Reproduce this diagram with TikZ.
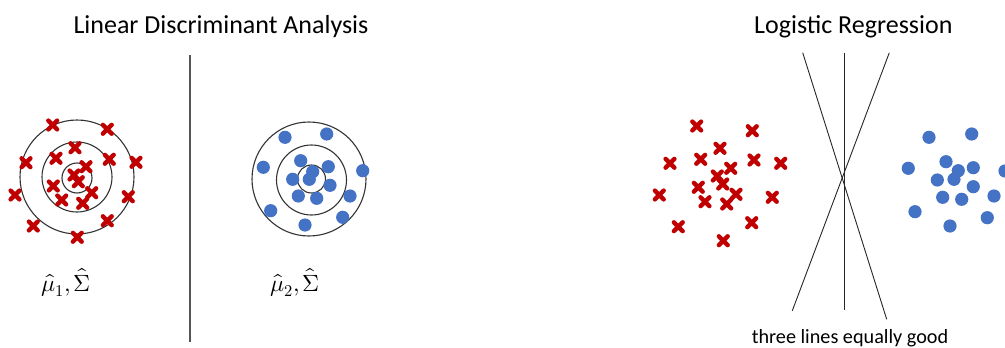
\documentclass[tikz,border=0pt]{standalone}
\usepackage{unicode-math}
\setmainfont{Carlito}
\setmathfont{Latin Modern Math}
\definecolor{xred}{HTML}{C00000}
\definecolor{dblue}{HTML}{4472C4}
\definecolor{lgray}{HTML}{555555}
\begin{document}
\begin{tikzpicture}[x=1pt,y=-1pt,
  ring/.style={draw=black!80,line width=1.1pt},
  sepline/.style={draw=lgray,line width=1.3pt},
  divline/.style={draw=black!85,line width=0.9pt},
  xmark/.style={draw=xred,line width=4.4pt,line cap=round},
  bdot/.style={fill=dblue},
  title/.style={font=\fontsize{26}{30}\selectfont,anchor=base},
  mlabel/.style={font=\fontsize{23.5}{28}\selectfont,anchor=base west,inner sep=0pt}]
\useasboundingbox (0,0) rectangle (1005,348);
% titles
\node[title] (tlda) at (221,33.3) {Linear Discriminant Analysis};
\node[title] (tlr) at (853.3,33.3) {Logistic Regression};
% divider
\coordinate (dtop) at (190,55);
\coordinate (dbot) at (190,342);
\draw[sepline] (dtop) -- (dbot);
% LDA class 1 rings
\draw[ring] (77,177) circle (57) (77,177) circle (35) (77,178) circle (15);
\foreach \p in {(52.7,125),(107.3,129.3),(75,147.7),(56,158.3),(109.3,159.3),(26,162.7),(136,162.3),(86,166.7),(74,175),(78.3,181.7),(53.3,186),(91.7,192.7),(15,195),(128.3,196.7),(61.7,200),(82.7,203.3),(107.3,220.7),(33.3,226),(77.3,237.3)}{
  \path \p coordinate (c);
  \draw[xmark] ([shift={(-4.4,-4.4)}]c) -- ([shift={(4.4,4.4)}]c) ([shift={(-4.4,4.4)}]c) -- ([shift={(4.4,-4.4)}]c);
}
% LDA class 2 rings
\draw[ring] (309,179) circle (57) (311.5,180) circle (35) (311.5,179) circle (14);
\foreach \p in {(285,137.3),(326.7,134),(263.3,167.3),(300.7,160.7),(328.3,166.7),(362.7,170.7),(312.7,171.7),(292.7,179.3),(309.3,179.3),(330,185.3),(298.3,196),(316.7,198.3),(350,196),(270.7,210.7),(342.7,217.3),(305,225)}{
  \fill[bdot] \p circle (6.6);
}
% labels
\node[mlabel] (m1) at (41.5,291) {$\hat{\mu}_{1}{,}\mkern2mu\hat{\Sigma}$};
\node[mlabel] (m2) at (270,291) {$\hat{\mu}_{2}{,}\mkern2mu\hat{\Sigma}$};
% Logistic regression points
\foreach \p in {(696.7,126),(752.3,130.7),(720,148.3),(700.7,159.3),(754,160),(670,163.3),(780.7,163.3),(730.7,168.3),(717.3,176),(722.7,184),(698.3,187.3),(736,194.3),(659.3,195),(772.3,197.3),(705,201.7),(726.7,204),(751.7,222.7),(678.3,226.7),(723.3,240.7)}{
  \path \p coordinate (c);
  \draw[xmark] ([shift={(-4.4,-4.4)}]c) -- ([shift={(4.4,4.4)}]c) ([shift={(-4.4,4.4)}]c) -- ([shift={(4.4,-4.4)}]c);
}
\foreach \p in {(929,137.3),(971.7,134),(908.3,168.3),(946,161.7),(973.3,167.7),(1005,171),(958.3,170.7),(937.3,180),(954,179.3),(973.3,186.7),(942.7,197.3),(961.7,199.3),(994,196),(915,211.7),(987.3,217.7),(950,226)}{
  \fill[bdot] \p circle (6.6);
}
% three lines
\coordinate (a1) at (802.7,52.7);
\coordinate (a2) at (886.7,319.3);
\coordinate (v1) at (844.3,52.7);
\coordinate (v2) at (844.3,310);
\coordinate (b1) at (889.3,52.7);
\coordinate (b2) at (792.3,310.7);
\draw[divline] (a1) -- (a2);
\draw[divline] (v1) -- (v2);
\draw[divline] (b1) -- (b2);
\node[font=\fontsize{20.2}{24}\selectfont,anchor=base] (cap) at (850,343.3) {three lines equally good};
\end{tikzpicture}
\end{document}
